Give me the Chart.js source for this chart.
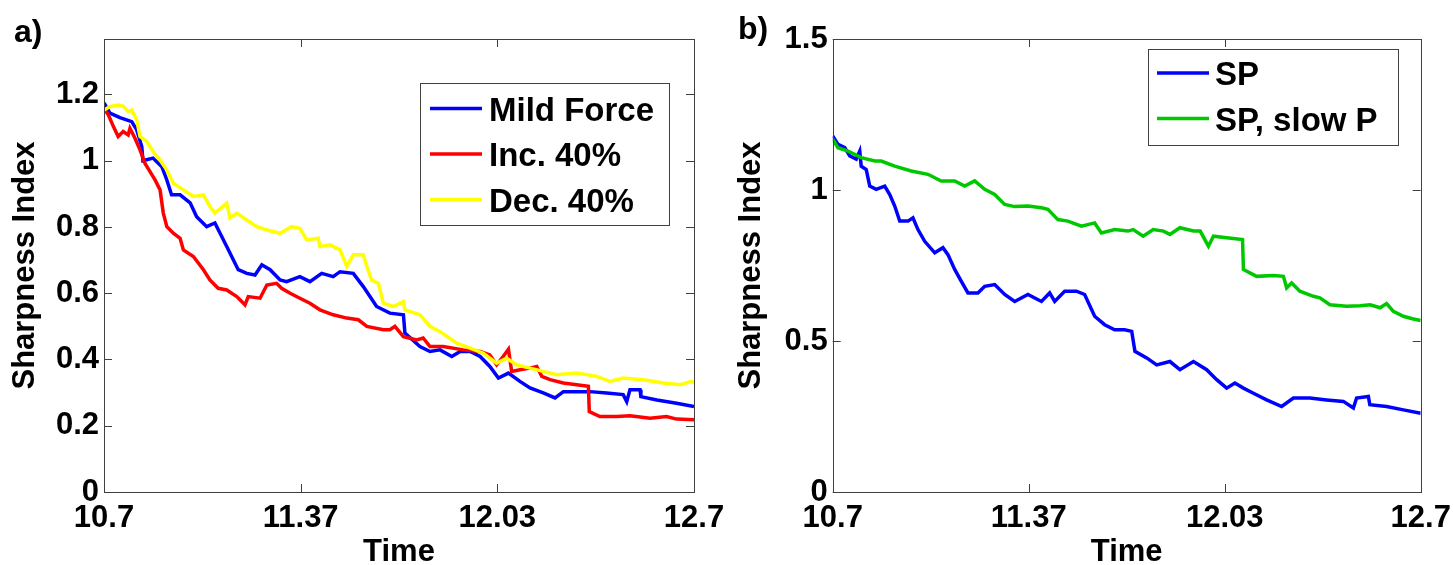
<!DOCTYPE html>
<html lang="en">
<head>
<meta charset="UTF-8">
<title>Sharpness Index over Time</title>
<style>
    html, body {
        margin: 0;
        padding: 0;
        background: #fff;
        overflow: hidden;
    }
    .wrap {
        position: relative;
        width: 1453px;
        height: 565px;
    }
    canvas {
        position: absolute;
        left: 0;
        top: 0;
    }
    .panel-tag {
        position: absolute;
        font: bold 32px 'Liberation Sans', Arial, Helvetica, sans-serif;
        line-height: 32px;
        color: #000;
    }
</style>
<script src="https://cdn.jsdelivr.net/npm/chart.js"></script>
</head>
<body>
<div class="wrap">
    <canvas id="chartA" width="1453" height="565"></canvas>
    <canvas id="chartB" width="1453" height="565"></canvas>
    <div class="panel-tag" style="left:14px; top:15px;">a)</div>
    <div class="panel-tag" style="left:738px; top:12px;">b)</div>
</div>

<script>
// axis ticks (shared time axis for both panels)
const xTickValues = [10.7, 11.3667, 12.0333, 12.7];
const xTickLabels = ['10.7', '11.37', '12.03', '12.7'];
const yTicksA = [0, 0.2, 0.4, 0.6, 0.8, 1.0, 1.2];
const yLabelsA = ['0', '0.2', '0.4', '0.6', '0.8', '1', '1.2'];
const yTicksB = [0, 0.5, 1.0, 1.5];
const yLabelsB = ['0', '0.5', '1', '1.5'];

// panel a) series
const seriesNamesA = ['Mild Force', 'Inc. 40%', 'Dec. 40%'];

const mildT = [10.700,10.720,10.754,10.794,10.811,10.828,10.832,10.866,10.896,10.913,10.929,10.958,10.992,11.014,11.048,11.076,11.093,11.116,11.155,11.184,11.212,11.235,11.263,11.297,11.319,11.364,11.398,11.438,11.477,11.500,11.545,11.579,11.624,11.669,11.715,11.720,11.771,11.805,11.839,11.879,11.907,11.941,11.975,12.008,12.037,12.071,12.110,12.144,12.189,12.229,12.257,12.302,12.347,12.404,12.460,12.472,12.483,12.517,12.520,12.574,12.641,12.700];
const mildV = [1.175,1.144,1.130,1.118,1.093,1.043,1.000,1.008,0.982,0.942,0.897,0.897,0.873,0.831,0.801,0.812,0.782,0.741,0.671,0.660,0.655,0.686,0.671,0.640,0.635,0.650,0.635,0.660,0.650,0.665,0.660,0.620,0.560,0.540,0.535,0.480,0.439,0.424,0.429,0.409,0.424,0.424,0.409,0.379,0.344,0.359,0.334,0.314,0.299,0.284,0.303,0.303,0.303,0.299,0.294,0.273,0.309,0.309,0.288,0.278,0.268,0.258];

const incT = [10.700,10.715,10.732,10.748,10.765,10.782,10.788,10.805,10.822,10.839,10.856,10.873,10.890,10.901,10.913,10.935,10.958,10.969,11.003,11.037,11.059,11.087,11.116,11.150,11.178,11.189,11.229,11.252,11.285,11.302,11.331,11.364,11.398,11.432,11.477,11.523,11.562,11.591,11.647,11.669,11.686,11.715,11.760,11.782,11.805,11.850,11.918,11.975,12.008,12.031,12.053,12.071,12.082,12.110,12.144,12.167,12.184,12.212,12.257,12.302,12.342,12.345,12.381,12.438,12.483,12.551,12.607,12.641,12.700];
const incV = [1.158,1.138,1.103,1.073,1.088,1.078,1.098,1.068,1.033,0.992,0.967,0.942,0.912,0.842,0.801,0.781,0.766,0.731,0.711,0.671,0.640,0.615,0.610,0.590,0.565,0.590,0.585,0.625,0.630,0.615,0.600,0.585,0.570,0.550,0.535,0.525,0.520,0.500,0.490,0.490,0.500,0.469,0.459,0.465,0.439,0.439,0.429,0.424,0.414,0.384,0.409,0.431,0.364,0.369,0.374,0.379,0.349,0.339,0.329,0.324,0.319,0.243,0.228,0.228,0.230,0.223,0.228,0.220,0.218];

const decT = [10.700,10.720,10.748,10.765,10.782,10.794,10.811,10.822,10.845,10.867,10.890,10.913,10.935,10.969,11.003,11.037,11.059,11.076,11.116,11.127,11.150,11.184,11.218,11.252,11.297,11.336,11.364,11.387,11.426,11.432,11.466,11.500,11.523,11.545,11.579,11.591,11.607,11.630,11.647,11.681,11.715,11.720,11.771,11.805,11.839,11.896,11.941,11.986,12.031,12.065,12.099,12.144,12.189,12.235,12.302,12.370,12.415,12.460,12.528,12.596,12.653,12.692,12.700];
const decV = [1.153,1.163,1.168,1.165,1.148,1.153,1.123,1.073,1.058,1.027,1.002,0.972,0.932,0.912,0.892,0.897,0.862,0.842,0.872,0.827,0.842,0.821,0.801,0.791,0.781,0.801,0.796,0.761,0.766,0.741,0.746,0.731,0.681,0.716,0.716,0.681,0.640,0.630,0.570,0.560,0.575,0.550,0.535,0.500,0.484,0.449,0.434,0.419,0.389,0.404,0.384,0.374,0.364,0.354,0.359,0.349,0.334,0.344,0.339,0.329,0.324,0.334,0.329];

// panel b) series
const seriesNamesB = ['SP', 'SP, slow P'];

const spT = [10.700,10.718,10.741,10.758,10.780,10.792,10.797,10.814,10.826,10.848,10.877,10.894,10.911,10.928,10.956,10.973,10.990,11.013,11.047,11.075,11.092,11.115,11.137,11.160,11.194,11.217,11.251,11.285,11.319,11.364,11.410,11.438,11.455,11.489,11.529,11.557,11.591,11.625,11.659,11.693,11.717,11.728,11.768,11.802,11.847,11.881,11.927,11.972,12.006,12.040,12.068,12.097,12.131,12.176,12.227,12.267,12.323,12.380,12.437,12.471,12.482,12.522,12.527,12.584,12.641,12.700];
const spV = [1.179,1.151,1.140,1.113,1.102,1.129,1.079,1.068,1.013,1.002,1.013,0.985,0.947,0.897,0.897,0.908,0.869,0.830,0.792,0.809,0.786,0.737,0.698,0.659,0.659,0.681,0.687,0.654,0.631,0.654,0.631,0.659,0.631,0.665,0.665,0.654,0.582,0.554,0.537,0.537,0.532,0.466,0.444,0.421,0.432,0.405,0.432,0.405,0.372,0.344,0.361,0.344,0.327,0.305,0.283,0.311,0.311,0.305,0.300,0.278,0.311,0.316,0.289,0.283,0.272,0.261];

const slowT = [10.700,10.718,10.752,10.797,10.843,10.865,10.911,10.967,11.024,11.069,11.115,11.149,11.183,11.217,11.251,11.285,11.319,11.364,11.410,11.432,11.466,11.500,11.546,11.591,11.614,11.659,11.704,11.722,11.756,11.790,11.825,11.847,11.881,11.927,11.950,11.978,11.995,12.040,12.094,12.097,12.142,12.199,12.233,12.244,12.261,12.289,12.335,12.357,12.391,12.448,12.494,12.528,12.562,12.584,12.607,12.641,12.675,12.700];
const slowV = [1.168,1.140,1.129,1.107,1.096,1.096,1.079,1.063,1.052,1.030,1.030,1.013,1.030,1.002,0.985,0.952,0.945,0.947,0.941,0.936,0.902,0.897,0.880,0.891,0.858,0.869,0.864,0.869,0.847,0.869,0.864,0.853,0.875,0.864,0.864,0.814,0.847,0.842,0.836,0.737,0.714,0.717,0.714,0.676,0.692,0.665,0.648,0.643,0.620,0.615,0.617,0.620,0.610,0.624,0.598,0.582,0.573,0.568];

const FONT = "'Liberation Sans', Arial, Helvetica, sans-serif";
Chart.defaults.font.family = FONT;
Chart.defaults.color = '#000';

function toPoints(times, values) {
    return times.map((t, i) => ({ x: t, y: values[i] }));
}

function line(label, color, times, values, order) {
    return {
        label: label,
        data: toPoints(times, values),
        borderColor: color,
        backgroundColor: color,
        borderWidth: 3.5,
        borderJoinStyle: 'miter',
        pointRadius: 0,
        tension: 0,
        fill: false,
        order: order
    };
}

// box frame with inward tick marks on all four sides (matlab style)
const frameTicks = {
    id: 'frameTicks',
    afterDatasetsDraw(chart) {
        const { ctx, chartArea: a, scales: { x, y } } = chart;
        const len = 8;
        ctx.save();
        ctx.strokeStyle = '#404040';
        ctx.lineWidth = 1;
        ctx.beginPath();
        x.ticks.forEach(t => {
            const px = Math.round(x.getPixelForValue(t.value)) + 0.5;
            ctx.moveTo(px, a.bottom); ctx.lineTo(px, a.bottom - len);
            ctx.moveTo(px, a.top); ctx.lineTo(px, a.top + len);
        });
        y.ticks.forEach(t => {
            const py = Math.round(y.getPixelForValue(t.value)) + 0.5;
            ctx.moveTo(a.left, py); ctx.lineTo(a.left + len, py);
            ctx.moveTo(a.right, py); ctx.lineTo(a.right - len, py);
        });
        ctx.stroke();
        ctx.strokeRect(Math.round(a.left) + 0.5, Math.round(a.top) + 0.5,
            Math.round(a.width), Math.round(a.height));
        ctx.restore();
    }
};

// legend box drawn inside the plot area
const boxLegend = {
    id: 'boxLegend',
    afterDraw(chart, args, opts) {
        const ctx = chart.ctx;
        ctx.save();
        ctx.fillStyle = '#fff';
        ctx.fillRect(opts.left, opts.top, opts.width, opts.height);
        ctx.strokeStyle = '#404040';
        ctx.lineWidth = 1;
        ctx.strokeRect(opts.left + 0.5, opts.top + 0.5, opts.width, opts.height);
        ctx.font = 'bold 33px ' + FONT;
        ctx.textBaseline = 'middle';
        ctx.textAlign = 'left';
        chart.data.datasets.forEach((ds, i) => {
            const ly = opts.firstRow + i * opts.rowGap;
            ctx.strokeStyle = ds.borderColor;
            ctx.lineWidth = 3.5;
            ctx.beginPath();
            ctx.moveTo(opts.left + opts.sampleStart, ly);
            ctx.lineTo(opts.left + opts.sampleEnd, ly);
            ctx.stroke();
            ctx.fillStyle = '#000';
            ctx.fillText(ds.label, opts.left + opts.textStart, ly + 3);
        });
        ctx.restore();
    }
};

function makeOptions(p) {
    return {
        responsive: false,
        animation: false,
        devicePixelRatio: 1,
        layout: { padding: { left: p.padLeft, right: p.padRight, top: 39, bottom: 0 } },
        plugins: {
            legend: { display: false },
            tooltip: { enabled: false },
            boxLegend: p.legend
        },
        scales: {
            x: {
                type: 'linear',
                min: 10.7,
                max: 12.7,
                afterBuildTicks: s => { s.ticks = xTickValues.map(v => ({ value: v })); },
                afterFit: s => { s.height = 73; s.paddingLeft = 0; s.paddingRight = 0; },
                grid: { display: false, drawTicks: false },
                border: { display: false },
                ticks: {
                    padding: 8,
                    autoSkip: false,
                    maxRotation: 0,
                    minRotation: 0,
                    color: '#000',
                    font: { size: 31, weight: 'bold' },
                    callback: (v, i) => xTickLabels[i]
                },
                title: {
                    display: true,
                    text: 'Time',
                    color: '#000',
                    padding: 0,
                    font: { size: 31, weight: 'bold', lineHeight: 0.8 }
                }
            },
            y: {
                type: 'linear',
                min: 0,
                max: p.yMax,
                afterBuildTicks: s => { s.ticks = p.yTicks.map(v => ({ value: v })); },
                afterFit: s => { s.width = p.yWidth; s.paddingTop = 0; s.paddingBottom = 0; },
                grid: { display: false, drawTicks: false },
                border: { display: false },
                ticks: {
                    padding: 5,
                    autoSkip: false,
                    color: '#000',
                    font: { size: 31, weight: 'bold' },
                    callback: (v, i) => p.yLabels[i]
                },
                title: {
                    display: true,
                    text: 'Sharpness Index',
                    color: '#000',
                    padding: { top: p.titlePad, bottom: 0 },
                    font: { size: 31, weight: 'bold', lineHeight: 1 }
                }
            }
        }
    };
}

new Chart(document.getElementById('chartA'), {
    type: 'line',
    data: {
        datasets: [
            line(seriesNamesA[0], '#0000ff', mildT, mildV, 3),
            line(seriesNamesA[1], '#ff0000', incT, incV, 2),
            line(seriesNamesA[2], '#ffff00', decT, decV, 1)
        ]
    },
    options: makeOptions({
        padLeft: 0, padRight: 759, yWidth: 104, yMax: 1.3675,
        yTicks: yTicksA, yLabels: yLabelsA, titlePad: 10,
        legend: { left: 420, top: 83, width: 249, height: 142, firstRow: 108.5, rowGap: 45.5,
                  sampleStart: 10, sampleEnd: 62, textStart: 69 }
    }),
    plugins: [frameTicks, boxLegend]
});

new Chart(document.getElementById('chartB'), {
    type: 'line',
    data: {
        datasets: [
            line(seriesNamesB[0], '#0000ff', spT, spV, 2),
            line(seriesNamesB[1], '#00c800', slowT, slowV, 1)
        ]
    },
    options: makeOptions({
        padLeft: 720, padRight: 32.3, yWidth: 112.7, yMax: 1.5,
        yTicks: yTicksB, yLabels: yLabelsB, titlePad: 15.5,
        legend: { left: 1148, top: 49, width: 250, height: 96, firstRow: 73, rowGap: 45.5,
                  sampleStart: 9, sampleEnd: 61, textStart: 67 }
    }),
    plugins: [frameTicks, boxLegend]
});
</script>
</body>
</html>
